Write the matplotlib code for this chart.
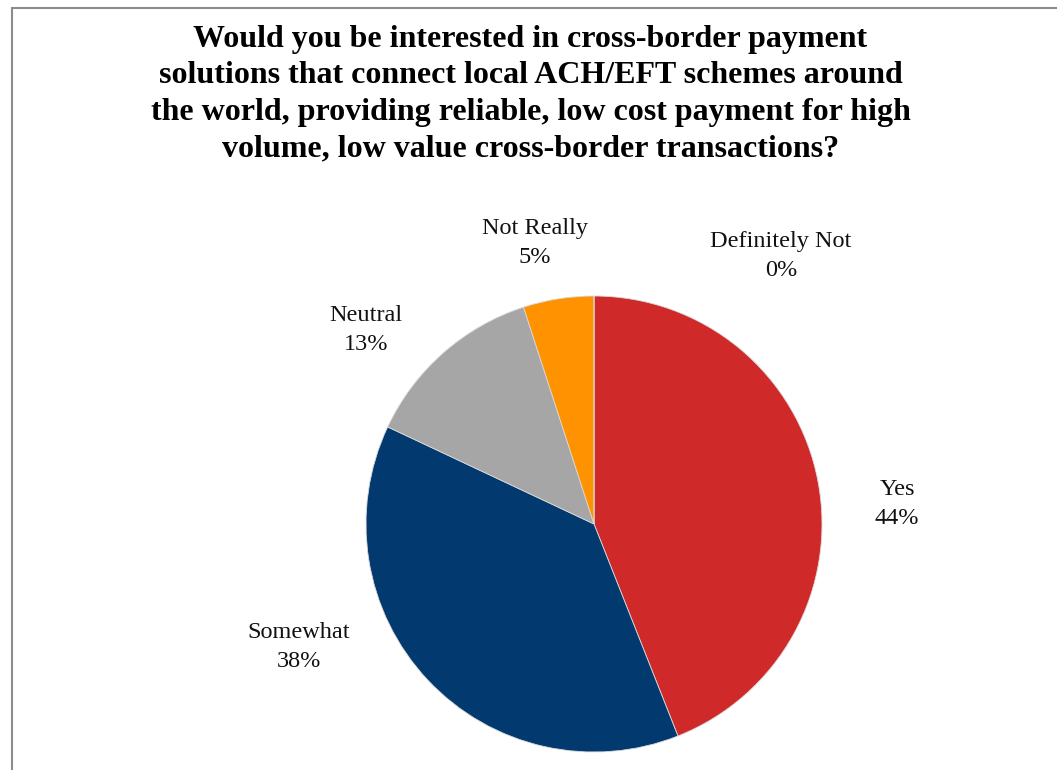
import matplotlib.pyplot as plt
from matplotlib.patches import Rectangle

# Data
categories = ['Yes', 'Somewhat', 'Neutral', 'Not Really', 'Definitely Not']
shares = [44, 38, 13, 5, 0]
colors = ['#CF2A29', '#023A70', '#A6A6A6', '#FF9200', '#7F7F7F']

# label centres (pixels from top-left of the image)
label_pos = [(897, 504), (299, 647), (366, 330), (535, 243), (781, 256)]

title = ("Would you be interested in cross-border payment\n"
         "solutions that connect local ACH/EFT schemes around\n"
         "the world, providing reliable, low cost payment for high\n"
         "volume, low value cross-border transactions?")

W, H = 1057, 770
plt.rcParams['font.family'] = ['Liberation Serif', 'DejaVu Serif']

fig = plt.figure(figsize=(W / 100, H / 100), dpi=100)
ax = fig.add_axes([0, 0, 1, 1])

# pie centred at (594, 524) px, radius 228 px
ax.pie(shares, colors=colors, startangle=90, counterclock=False,
       center=(594, H - 524), radius=228,
       wedgeprops=dict(edgecolor='#d9d9d9', linewidth=0.6))

ax.set_xlim(0, W)
ax.set_ylim(0, H)
ax.set_aspect('equal')
ax.axis('off')

# percentage labels
for name, val, (x, y) in zip(categories, shares, label_pos):
    ax.text(x, H - y, f"{name}\n{val}%", ha='center', va='center',
            fontsize=17.5, linespacing=1.5, color='#111111')

# title
ax.text(W / 2 + 2, H - 94, title, ha='center', va='center',
        fontsize=23, fontweight='bold', linespacing=1.34)

# chart border (runs off the right and bottom of the image)
ax.add_patch(Rectangle((12, -20), W + 40, H - 8 + 20, fill=False,
                       edgecolor='#8c8c8c', linewidth=1.5, clip_on=False))

fig.savefig('out.png', dpi=100)
